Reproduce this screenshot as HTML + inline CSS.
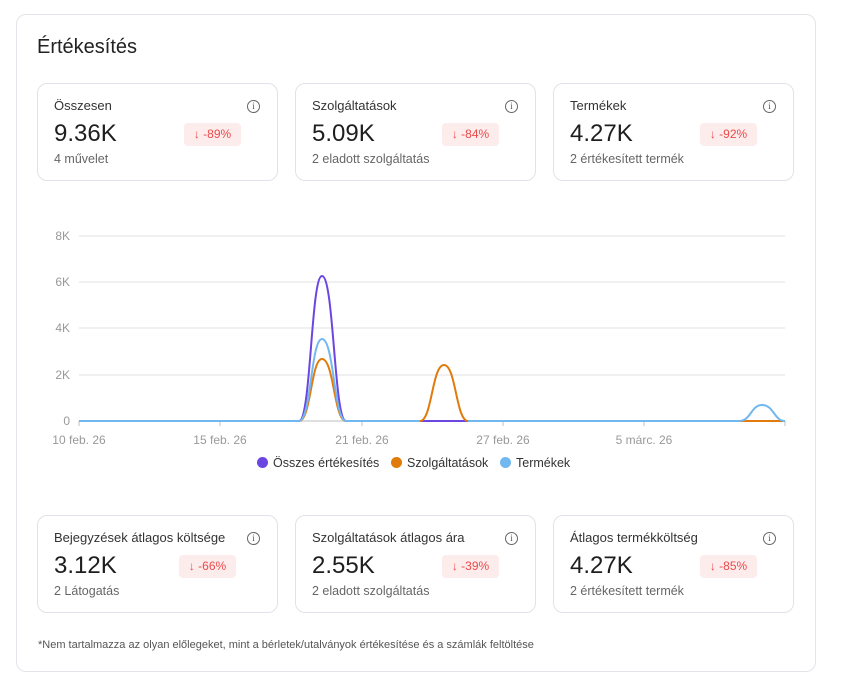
<!DOCTYPE html>
<html><head><meta charset="utf-8"><style>
*{box-sizing:border-box;margin:0;padding:0}
body{width:862px;height:683px;background:#fff;font-family:"Liberation Sans",sans-serif;position:relative;overflow:hidden}
.outer{position:absolute;left:16px;top:14px;width:800px;height:658px;border:1px solid #e3e3ea;border-radius:10px}
h1{position:absolute;left:37px;top:36px;font-size:20px;font-weight:400;color:#222}
.card{position:absolute;width:241px;height:98px;border:1px solid #e2e2ea;border-radius:10px}
.t{position:absolute;left:16px;top:14px;font-size:13px;color:#333}
.v{position:absolute;left:16px;top:36px;font-size:24px;color:#1e1e1e}
.s{position:absolute;left:16px;top:68px;font-size:12.5px;color:#666}
.b{position:absolute;left:146px;top:39px;width:57px;height:23px;background:#fdecec;border-radius:4px;color:#ec4a4a;font-size:12px;line-height:23px;text-align:center}
.i{position:absolute;right:17px;top:16px;width:13px;height:13px;border:1.2px solid #666;border-radius:50%;font-size:9px;line-height:11px;text-align:center;color:#555;font-family:"Liberation Serif",serif}
.note{position:absolute;left:38px;top:639px;font-size:11px;color:#555}
.lg{position:absolute;top:456px;font-size:12.5px;color:#333}
.dot{display:inline-block;width:11px;height:11px;border-radius:50%;vertical-align:-1px;margin-right:5px}
</style></head><body>
<div class="outer"></div>
<h1>Értékesítés</h1>
<div class="card" style="left:37px;top:83px"><div class="t">Összesen</div><div class="i">i</div><div class="v">9.36K</div><div class="b">↓ -89%</div><div class="s">4 művelet</div></div>
<div class="card" style="left:295px;top:83px"><div class="t">Szolgáltatások</div><div class="i">i</div><div class="v">5.09K</div><div class="b">↓ -84%</div><div class="s">2 eladott szolgáltatás</div></div>
<div class="card" style="left:553px;top:83px"><div class="t">Termékek</div><div class="i">i</div><div class="v">4.27K</div><div class="b">↓ -92%</div><div class="s">2 értékesített termék</div></div>
<svg style="position:absolute;left:0;top:0" width="862" height="683">
<g stroke="#e6e6ea" stroke-width="1.2">
<line x1="79" x2="785" y1="236" y2="236"/><line x1="79" x2="785" y1="282" y2="282"/><line x1="79" x2="785" y1="328" y2="328"/><line x1="79" x2="785" y1="375" y2="375"/><line x1="79" x2="785" y1="421" y2="421" stroke="#ccc"/>
<line x1="79" x2="79" y1="421" y2="426" stroke="#ccc"/><line x1="220" x2="220" y1="421" y2="426" stroke="#ccc"/><line x1="362" x2="362" y1="421" y2="426" stroke="#ccc"/><line x1="503" x2="503" y1="421" y2="426" stroke="#ccc"/><line x1="644" x2="644" y1="421" y2="426" stroke="#ccc"/><line x1="785" x2="785" y1="421" y2="426" stroke="#ccc"/>
</g>
<g font-size="12" fill="#999" font-family="Liberation Sans,sans-serif">
<text x="70" y="240" text-anchor="end">8K</text><text x="70" y="286" text-anchor="end">6K</text><text x="70" y="332" text-anchor="end">4K</text><text x="70" y="379" text-anchor="end">2K</text><text x="70" y="425" text-anchor="end">0</text>
<text x="79" y="444" text-anchor="middle">10 feb. 26</text><text x="220" y="444" text-anchor="middle">15 feb. 26</text><text x="362" y="444" text-anchor="middle">21 feb. 26</text><text x="503" y="444" text-anchor="middle">27 feb. 26</text><text x="644" y="444" text-anchor="middle">5 márc. 26</text>
</g>
<g fill="none" stroke-width="2">
<path stroke="#6b46e0" d="M79 421H299C311 421 311 276 322 276C334 276 334 421 346 421H785"/>
<path stroke="#e07b0c" d="M79 421H299C311 421 311 359 322 359C334 359 334 421 346 421H420C432 421 432 365 444 365C456 365 456 421 468 421H785"/>
<path stroke="#72b8f0" d="M79 421H299C311 421 311 339 322 339C334 339 334 421 346 421H420M468 421H739C751 421 751 405 762 405C774 405 774 421 785 421"/>
</g>
</svg>
<div class="lg" style="left:257px"><span class="dot" style="background:#6b46e0"></span>Összes értékesítés</div>
<div class="lg" style="left:391px"><span class="dot" style="background:#e07b0c"></span>Szolgáltatások</div>
<div class="lg" style="left:500px"><span class="dot" style="background:#72b8f0"></span>Termékek</div>
<div class="card" style="left:37px;top:515px"><div class="t">Bejegyzések átlagos költsége</div><div class="i">i</div><div class="v">3.12K</div><div class="b" style="left:141px">↓ -66%</div><div class="s">2 Látogatás</div></div>
<div class="card" style="left:295px;top:515px"><div class="t">Szolgáltatások átlagos ára</div><div class="i">i</div><div class="v">2.55K</div><div class="b">↓ -39%</div><div class="s">2 eladott szolgáltatás</div></div>
<div class="card" style="left:553px;top:515px"><div class="t">Átlagos termékköltség</div><div class="i">i</div><div class="v">4.27K</div><div class="b">↓ -85%</div><div class="s">2 értékesített termék</div></div>
<div class="note">*Nem tartalmazza az olyan előlegeket, mint a bérletek/utalványok értékesítése és a számlák feltöltése</div>
</body></html>
